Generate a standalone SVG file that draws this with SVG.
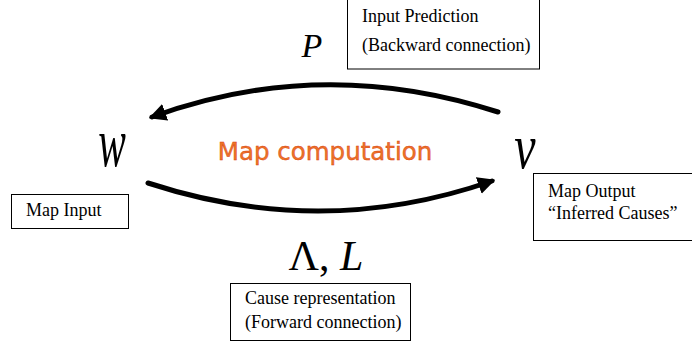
<svg xmlns="http://www.w3.org/2000/svg" width="692" height="347" viewBox="0 0 692 347">
<defs>
<style>
.box{fill:#fff;stroke:#000;stroke-width:1}
.lbl{font-family:"Liberation Serif",serif;font-size:18px;fill:#000}
.sym{font-family:"Liberation Serif",serif;font-style:italic;fill:#000}
.arc{fill:none;stroke:#000;stroke-width:5;stroke-linecap:round}
</style>
<marker id="ah" viewBox="0 0 10 10" refX="8" refY="5" markerWidth="3.5" markerHeight="3.5" orient="auto" markerUnits="strokeWidth">
<path d="M0,0 L10,5 L0,10 z" fill="#000"/>
</marker>
</defs>
<rect width="692" height="347" fill="#fff"/>
<g id="connectors">
<path class="arc" d="M 498 112 Q 322 55 152 117" marker-end="url(#ah)"/>
<path class="arc" d="M 148 183 Q 322 240 492 181" marker-end="url(#ah)"/>
</g>
<g id="map-computation">
<text x="325" y="160" text-anchor="middle" font-family="'DejaVu Sans',sans-serif" font-size="24.5" fill="#ec7428" stroke="#d83a14" stroke-width="0.4">Map computation</text>
</g>
<g id="node-w">
<text class="sym" x="112" y="166" text-anchor="middle" font-size="46" transform="translate(112 166) scale(0.9 1.5) translate(-112 -166)">w</text>
</g>
<g id="node-v">
<text class="sym" x="525" y="168" text-anchor="middle" font-size="48" transform="translate(525 168) scale(1 1.3) translate(-525 -168)">v</text>
</g>
<g id="label-P">
<text class="sym" x="312" y="57" text-anchor="middle" font-size="34">P</text>
</g>
<g id="label-LambdaL">
<text x="326" y="270" text-anchor="middle" font-family="'Liberation Serif',serif" font-size="42" fill="#000">Λ, <tspan font-style="italic">L</tspan></text>
</g>
<g id="box-input-prediction">
<rect class="box" x="347.5" y="-1" width="192" height="70"/>
<text class="lbl" x="362" y="22">Input Prediction</text>
<text class="lbl" x="362" y="51">(Backward connection)</text>
</g>
<g id="box-map-input">
<rect class="box" x="11.5" y="194.5" width="117" height="34"/>
<text class="lbl" x="26" y="216">Map Input</text>
</g>
<g id="box-map-output">
<rect class="box" x="533.5" y="173.5" width="159" height="67"/>
<text class="lbl" x="548" y="197">Map Output</text>
<text class="lbl" x="548" y="219">“Inferred Causes”</text>
</g>
<g id="box-cause">
<rect class="box" x="230.5" y="283.5" width="180" height="57"/>
<text class="lbl" x="245" y="304">Cause representation</text>
<text class="lbl" x="245" y="328">(Forward connection)</text>
</g>
</svg>
